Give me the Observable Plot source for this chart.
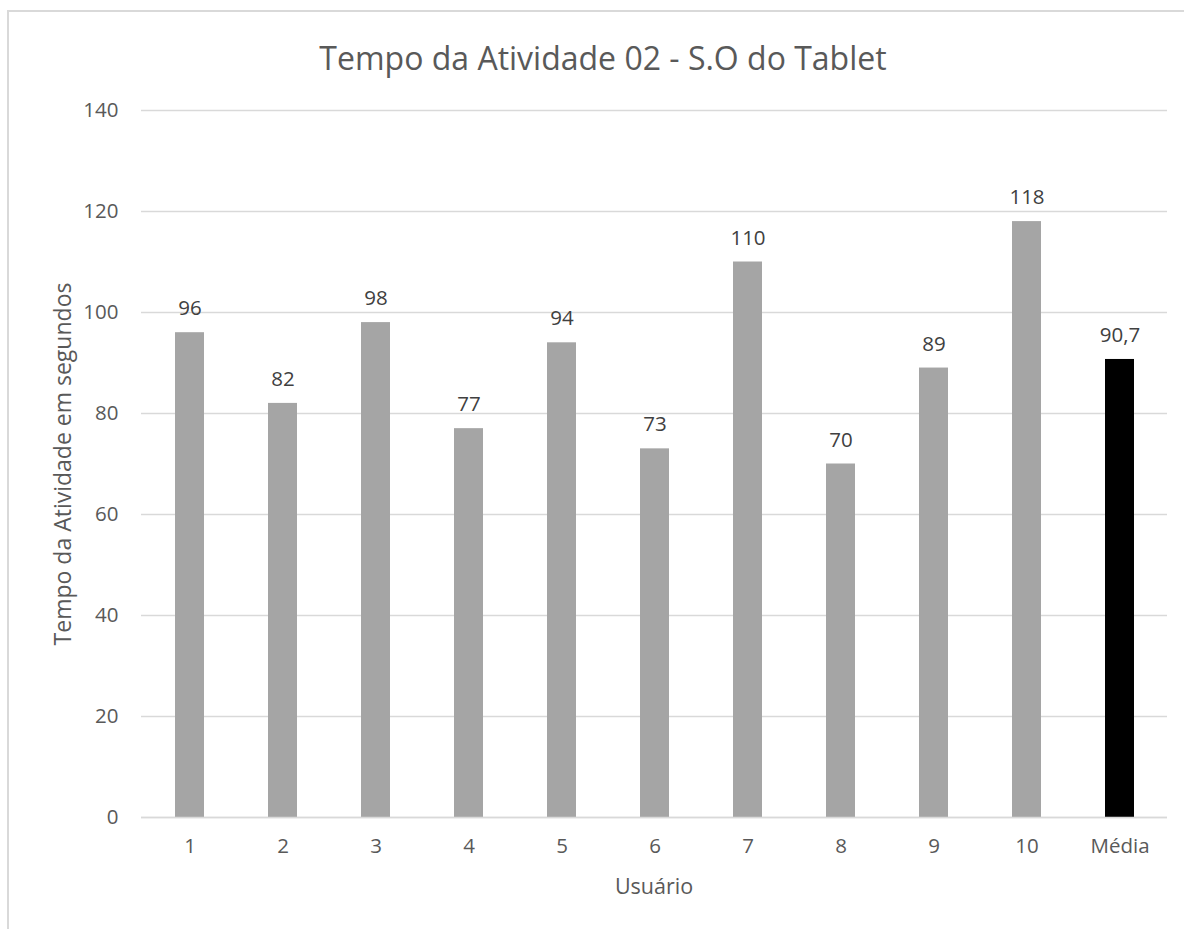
<!DOCTYPE html>
<html>
<head>
<meta charset="utf-8">
<script src="https://cdn.jsdelivr.net/npm/d3@7"></script>
<script src="https://cdn.jsdelivr.net/npm/@observablehq/plot@0.6"></script>
<style>
  html, body { margin: 0; padding: 0; background: #fff; }
  #wrap { position: relative; width: 1184px; height: 929px; overflow: hidden; background: #fff; }
  #frame { position: absolute; left: 7px; top: 10px; width: 1300px; height: 1000px; border-left: 2px solid #d9d9d9; border-top: 2px solid #d9d9d9; }
  #title { position: absolute; left: 0; width: 1206px; top: 35px; line-height: 46px; text-align: center; font-family: "Open Sans", sans-serif; font-size: 32px; color: #595959; }
  #xlabel { position: absolute; left: 454px; width: 400px; top: 871px; line-height: 30px; text-align: center; font-family: "Open Sans", sans-serif; font-size: 21.5px; color: #595959; }
  #ylabel { position: absolute; left: 62px; top: 464px; width: 500px; margin-left: -250px; margin-top: -15px; line-height: 30px; text-align: center; transform: rotate(-90deg); font-family: "Open Sans", sans-serif; font-size: 23px; color: #595959; }
  #chart { position: absolute; left: 0; top: 0; }
</style>
</head>
<body>
<div id="wrap">
  <div id="frame"></div>
  <div id="chart"></div>
  <div id="title">Tempo da Atividade 02 - S.O do Tablet</div>
  <div id="ylabel">Tempo da Atividade em segundos</div>
  <div id="xlabel">Usuário</div>
</div>
<script>
const users = ["1", "2", "3", "4", "5", "6", "7", "8", "9", "10", "Média"];
const values = [96, 82, 98, 77, 94, 73, 110, 70, 89, 118, 90.7];
const valueLabels = ["96", "82", "98", "77", "94", "73", "110", "70", "89", "118", "90,7"];
const barColors = ["#a5a5a5", "#a5a5a5", "#a5a5a5", "#a5a5a5", "#a5a5a5", "#a5a5a5", "#a5a5a5", "#a5a5a5", "#a5a5a5", "#a5a5a5", "#000000"];
const yTicks = [0, 20, 40, 60, 80, 100, 120, 140];

const data = users.map((u, i) => ({user: u, value: values[i], label: valueLabels[i], color: barColors[i]}));

const chart = Plot.plot({
  width: 1184,
  height: 929,
  marginLeft: 141,
  marginRight: 17,
  marginTop: 110,
  marginBottom: 112,
  style: {fontFamily: "Open Sans, sans-serif", fontSize: "20px", color: "#595959", background: "transparent"},
  x: {domain: users, paddingInner: 0.69, paddingOuter: 0.345},
  y: {domain: [0, 140]},
  marks: [
    Plot.gridY(yTicks, {stroke: "#d9d9d9", strokeOpacity: 1, strokeWidth: 1.3}),
    Plot.axisY(yTicks, {tickSize: 0, tickPadding: 23, fontSize: 20.5, fill: "#595959", label: null}),
    Plot.axisX({tickSize: 0, tickPadding: 21, fontSize: 20.5, fill: "#595959", label: null}),
    Plot.barY(data, {x: "user", y: "value", fill: "color"}),
    Plot.ruleY([0], {stroke: "#d9d9d9", strokeWidth: 1.5}),
    Plot.text(data, {x: "user", y: "value", text: "label", dy: -24, fontSize: 20.5, fill: "#404040"})
  ]
});
document.getElementById("chart").appendChild(chart);
</script>
</body>
</html>
